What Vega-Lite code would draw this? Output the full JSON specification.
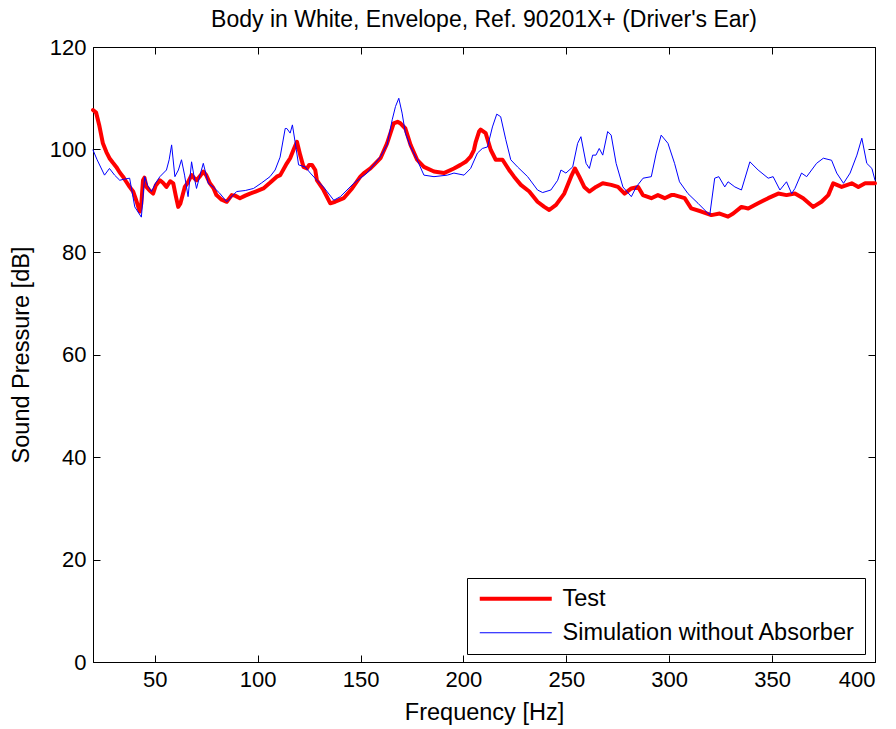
{
  "$schema": "https://vega.github.io/schema/vega-lite/v6.json",
  "width": 782,
  "height": 615,
  "autosize": {"type": "none"},
  "padding": {"left": 93, "top": 47, "right": 21, "bottom": 67},
  "background": "white",
  "title": {"text": "Body in White, Envelope, Ref. 90201X+ (Driver's Ear)", "fontSize": 23, "fontWeight": "normal", "font": "Liberation Sans", "color": "black", "offset": 4},
  "config": {
    "font": "Liberation Sans",
    "view": {"stroke": "black", "strokeWidth": 1},
    "axis": {"grid": false, "domainColor": "black", "tickColor": "black", "labelColor": "black", "titleColor": "black", "labelFontSize": 22, "titleFontSize": 23.5, "titleFontWeight": "normal", "tickSize": -7, "labelFont": "Liberation Sans", "titleFont": "Liberation Sans"}
  },
  "datasets": {
    "curves": [
      {"f": 20, "db": 107.7, "s": "Test"},
      {"f": 21.5, "db": 107.2, "s": "Test"},
      {"f": 23, "db": 104.8, "s": "Test"},
      {"f": 24.8, "db": 101.2, "s": "Test"},
      {"f": 26.5, "db": 99.5, "s": "Test"},
      {"f": 28, "db": 98.3, "s": "Test"},
      {"f": 29.5, "db": 97.5, "s": "Test"},
      {"f": 31.3, "db": 96.6, "s": "Test"},
      {"f": 33, "db": 95.5, "s": "Test"},
      {"f": 34.6, "db": 94.7, "s": "Test"},
      {"f": 36, "db": 93.8, "s": "Test"},
      {"f": 37.8, "db": 92.7, "s": "Test"},
      {"f": 39.5, "db": 91.8, "s": "Test"},
      {"f": 41, "db": 90.1, "s": "Test"},
      {"f": 42.7, "db": 87.9, "s": "Test"},
      {"f": 43.5, "db": 89.5, "s": "Test"},
      {"f": 44.3, "db": 94, "s": "Test"},
      {"f": 45, "db": 94.5, "s": "Test"},
      {"f": 46, "db": 92.7, "s": "Test"},
      {"f": 47.5, "db": 92, "s": "Test"},
      {"f": 49.2, "db": 91.4, "s": "Test"},
      {"f": 50.5, "db": 93, "s": "Test"},
      {"f": 52.5, "db": 94, "s": "Test"},
      {"f": 54, "db": 93.5, "s": "Test"},
      {"f": 55.7, "db": 92.7, "s": "Test"},
      {"f": 57.5, "db": 93.8, "s": "Test"},
      {"f": 59, "db": 93.4, "s": "Test"},
      {"f": 60.2, "db": 91, "s": "Test"},
      {"f": 61.4, "db": 88.8, "s": "Test"},
      {"f": 62.5, "db": 89.5, "s": "Test"},
      {"f": 64.6, "db": 92.7, "s": "Test"},
      {"f": 66, "db": 93.5, "s": "Test"},
      {"f": 67.9, "db": 95, "s": "Test"},
      {"f": 69, "db": 94.5, "s": "Test"},
      {"f": 70.3, "db": 94, "s": "Test"},
      {"f": 72, "db": 94.8, "s": "Test"},
      {"f": 73.6, "db": 95.7, "s": "Test"},
      {"f": 75, "db": 95, "s": "Test"},
      {"f": 76.8, "db": 93.4, "s": "Test"},
      {"f": 78.5, "db": 92.5, "s": "Test"},
      {"f": 80, "db": 91.1, "s": "Test"},
      {"f": 82.5, "db": 90.2, "s": "Test"},
      {"f": 85, "db": 89.8, "s": "Test"},
      {"f": 87.4, "db": 91.1, "s": "Test"},
      {"f": 89, "db": 91, "s": "Test"},
      {"f": 91.4, "db": 90.5, "s": "Test"},
      {"f": 94, "db": 91, "s": "Test"},
      {"f": 96.3, "db": 91.4, "s": "Test"},
      {"f": 99, "db": 91.8, "s": "Test"},
      {"f": 102.8, "db": 92.4, "s": "Test"},
      {"f": 106, "db": 93.5, "s": "Test"},
      {"f": 109.3, "db": 94.7, "s": "Test"},
      {"f": 111, "db": 95, "s": "Test"},
      {"f": 114.2, "db": 97.3, "s": "Test"},
      {"f": 115.8, "db": 98.3, "s": "Test"},
      {"f": 117.4, "db": 99.9, "s": "Test"},
      {"f": 119.1, "db": 101.5, "s": "Test"},
      {"f": 120.7, "db": 98.9, "s": "Test"},
      {"f": 122.3, "db": 96.6, "s": "Test"},
      {"f": 124, "db": 96.3, "s": "Test"},
      {"f": 125, "db": 97, "s": "Test"},
      {"f": 126.4, "db": 97, "s": "Test"},
      {"f": 128, "db": 96, "s": "Test"},
      {"f": 128.8, "db": 94, "s": "Test"},
      {"f": 132, "db": 92.1, "s": "Test"},
      {"f": 135.3, "db": 89.5, "s": "Test"},
      {"f": 137.7, "db": 89.8, "s": "Test"},
      {"f": 141.8, "db": 90.5, "s": "Test"},
      {"f": 145.9, "db": 92.4, "s": "Test"},
      {"f": 149.9, "db": 94.7, "s": "Test"},
      {"f": 152, "db": 95.5, "s": "Test"},
      {"f": 154.8, "db": 96.3, "s": "Test"},
      {"f": 157, "db": 97.2, "s": "Test"},
      {"f": 159.7, "db": 98.3, "s": "Test"},
      {"f": 162.9, "db": 101.2, "s": "Test"},
      {"f": 166.1, "db": 105.1, "s": "Test"},
      {"f": 168, "db": 105.4, "s": "Test"},
      {"f": 169.4, "db": 105.1, "s": "Test"},
      {"f": 171.8, "db": 104.1, "s": "Test"},
      {"f": 174.3, "db": 100.9, "s": "Test"},
      {"f": 177.5, "db": 98, "s": "Test"},
      {"f": 180.8, "db": 96.6, "s": "Test"},
      {"f": 185.7, "db": 95.7, "s": "Test"},
      {"f": 190.5, "db": 95.4, "s": "Test"},
      {"f": 195.4, "db": 96.3, "s": "Test"},
      {"f": 198.6, "db": 97, "s": "Test"},
      {"f": 201.1, "db": 97.6, "s": "Test"},
      {"f": 203.5, "db": 98.6, "s": "Test"},
      {"f": 205.1, "db": 99.9, "s": "Test"},
      {"f": 206, "db": 101.5, "s": "Test"},
      {"f": 207.6, "db": 103.5, "s": "Test"},
      {"f": 208.4, "db": 103.9, "s": "Test"},
      {"f": 210.8, "db": 103.2, "s": "Test"},
      {"f": 213.3, "db": 99.9, "s": "Test"},
      {"f": 215.7, "db": 98, "s": "Test"},
      {"f": 219, "db": 98, "s": "Test"},
      {"f": 222.2, "db": 96, "s": "Test"},
      {"f": 224.6, "db": 94.7, "s": "Test"},
      {"f": 227.9, "db": 93.1, "s": "Test"},
      {"f": 232, "db": 91.8, "s": "Test"},
      {"f": 236, "db": 89.8, "s": "Test"},
      {"f": 239.3, "db": 88.8, "s": "Test"},
      {"f": 241.7, "db": 88.2, "s": "Test"},
      {"f": 245, "db": 89.2, "s": "Test"},
      {"f": 249, "db": 91.4, "s": "Test"},
      {"f": 252.3, "db": 94.7, "s": "Test"},
      {"f": 254.2, "db": 96.3, "s": "Test"},
      {"f": 256.3, "db": 94.7, "s": "Test"},
      {"f": 258.7, "db": 92.7, "s": "Test"},
      {"f": 261.2, "db": 91.8, "s": "Test"},
      {"f": 264.4, "db": 92.7, "s": "Test"},
      {"f": 267.7, "db": 93.4, "s": "Test"},
      {"f": 271.8, "db": 93.1, "s": "Test"},
      {"f": 275.1, "db": 92.7, "s": "Test"},
      {"f": 278.3, "db": 91.4, "s": "Test"},
      {"f": 281.6, "db": 92.4, "s": "Test"},
      {"f": 284.9, "db": 92.7, "s": "Test"},
      {"f": 287.2, "db": 91.1, "s": "Test"},
      {"f": 291.3, "db": 90.5, "s": "Test"},
      {"f": 294.5, "db": 91.1, "s": "Test"},
      {"f": 297.8, "db": 90.5, "s": "Test"},
      {"f": 301, "db": 91.1, "s": "Test"},
      {"f": 302.6, "db": 91.1, "s": "Test"},
      {"f": 307.5, "db": 90.5, "s": "Test"},
      {"f": 310.7, "db": 88.5, "s": "Test"},
      {"f": 315.6, "db": 87.9, "s": "Test"},
      {"f": 320.5, "db": 87.2, "s": "Test"},
      {"f": 324.5, "db": 87.5, "s": "Test"},
      {"f": 328.6, "db": 86.9, "s": "Test"},
      {"f": 331.1, "db": 87.5, "s": "Test"},
      {"f": 335.1, "db": 88.8, "s": "Test"},
      {"f": 338.4, "db": 88.5, "s": "Test"},
      {"f": 343.2, "db": 89.5, "s": "Test"},
      {"f": 348.1, "db": 90.5, "s": "Test"},
      {"f": 353, "db": 91.4, "s": "Test"},
      {"f": 357, "db": 91.1, "s": "Test"},
      {"f": 361.1, "db": 91.4, "s": "Test"},
      {"f": 365.1, "db": 90.5, "s": "Test"},
      {"f": 370, "db": 88.8, "s": "Test"},
      {"f": 374, "db": 89.8, "s": "Test"},
      {"f": 377.3, "db": 91.1, "s": "Test"},
      {"f": 379.7, "db": 93.4, "s": "Test"},
      {"f": 383.8, "db": 92.7, "s": "Test"},
      {"f": 388.7, "db": 93.4, "s": "Test"},
      {"f": 391.9, "db": 92.7, "s": "Test"},
      {"f": 395.2, "db": 93.4, "s": "Test"},
      {"f": 400, "db": 93.4, "s": "Test"},
      {"f": 20, "db": 99.9, "s": "Simulation without Absorber"},
      {"f": 22, "db": 98, "s": "Simulation without Absorber"},
      {"f": 25.6, "db": 95, "s": "Simulation without Absorber"},
      {"f": 28, "db": 96.3, "s": "Simulation without Absorber"},
      {"f": 30.5, "db": 95, "s": "Simulation without Absorber"},
      {"f": 33, "db": 94, "s": "Simulation without Absorber"},
      {"f": 35, "db": 94.2, "s": "Simulation without Absorber"},
      {"f": 37.8, "db": 94.4, "s": "Simulation without Absorber"},
      {"f": 40.3, "db": 88.8, "s": "Simulation without Absorber"},
      {"f": 43.5, "db": 86.8, "s": "Simulation without Absorber"},
      {"f": 45.1, "db": 94.7, "s": "Simulation without Absorber"},
      {"f": 46.5, "db": 93, "s": "Simulation without Absorber"},
      {"f": 48.4, "db": 91.8, "s": "Simulation without Absorber"},
      {"f": 50.5, "db": 93.5, "s": "Simulation without Absorber"},
      {"f": 52.5, "db": 94.7, "s": "Simulation without Absorber"},
      {"f": 55.7, "db": 96, "s": "Simulation without Absorber"},
      {"f": 57, "db": 98, "s": "Simulation without Absorber"},
      {"f": 58.2, "db": 100.9, "s": "Simulation without Absorber"},
      {"f": 59.8, "db": 94.7, "s": "Simulation without Absorber"},
      {"f": 61.5, "db": 96, "s": "Simulation without Absorber"},
      {"f": 63, "db": 98, "s": "Simulation without Absorber"},
      {"f": 64.5, "db": 95, "s": "Simulation without Absorber"},
      {"f": 66.2, "db": 90.8, "s": "Simulation without Absorber"},
      {"f": 67.9, "db": 97.6, "s": "Simulation without Absorber"},
      {"f": 69, "db": 95, "s": "Simulation without Absorber"},
      {"f": 70.3, "db": 92.4, "s": "Simulation without Absorber"},
      {"f": 72, "db": 95, "s": "Simulation without Absorber"},
      {"f": 73.6, "db": 97.3, "s": "Simulation without Absorber"},
      {"f": 76, "db": 93.4, "s": "Simulation without Absorber"},
      {"f": 78.4, "db": 92.7, "s": "Simulation without Absorber"},
      {"f": 81.5, "db": 91.5, "s": "Simulation without Absorber"},
      {"f": 85, "db": 89.8, "s": "Simulation without Absorber"},
      {"f": 89.8, "db": 91.8, "s": "Simulation without Absorber"},
      {"f": 94, "db": 92, "s": "Simulation without Absorber"},
      {"f": 98, "db": 92.4, "s": "Simulation without Absorber"},
      {"f": 102, "db": 93.5, "s": "Simulation without Absorber"},
      {"f": 106, "db": 94.7, "s": "Simulation without Absorber"},
      {"f": 108.5, "db": 96, "s": "Simulation without Absorber"},
      {"f": 110.9, "db": 98.5, "s": "Simulation without Absorber"},
      {"f": 113.4, "db": 104.1, "s": "Simulation without Absorber"},
      {"f": 114.2, "db": 104.1, "s": "Simulation without Absorber"},
      {"f": 115.8, "db": 103.2, "s": "Simulation without Absorber"},
      {"f": 116.9, "db": 104.8, "s": "Simulation without Absorber"},
      {"f": 118.2, "db": 101.5, "s": "Simulation without Absorber"},
      {"f": 119.9, "db": 97, "s": "Simulation without Absorber"},
      {"f": 123.1, "db": 96.6, "s": "Simulation without Absorber"},
      {"f": 125.6, "db": 95.4, "s": "Simulation without Absorber"},
      {"f": 128.8, "db": 94, "s": "Simulation without Absorber"},
      {"f": 132, "db": 92.7, "s": "Simulation without Absorber"},
      {"f": 137, "db": 90.1, "s": "Simulation without Absorber"},
      {"f": 140.2, "db": 90.8, "s": "Simulation without Absorber"},
      {"f": 146.7, "db": 93.4, "s": "Simulation without Absorber"},
      {"f": 153.2, "db": 95.4, "s": "Simulation without Absorber"},
      {"f": 159.7, "db": 98.6, "s": "Simulation without Absorber"},
      {"f": 162.9, "db": 100.9, "s": "Simulation without Absorber"},
      {"f": 165.4, "db": 105.8, "s": "Simulation without Absorber"},
      {"f": 167, "db": 108.4, "s": "Simulation without Absorber"},
      {"f": 168.6, "db": 110, "s": "Simulation without Absorber"},
      {"f": 170.2, "db": 107.1, "s": "Simulation without Absorber"},
      {"f": 171.8, "db": 103.2, "s": "Simulation without Absorber"},
      {"f": 174.3, "db": 100.5, "s": "Simulation without Absorber"},
      {"f": 177.5, "db": 98, "s": "Simulation without Absorber"},
      {"f": 180.8, "db": 95, "s": "Simulation without Absorber"},
      {"f": 185.7, "db": 94.7, "s": "Simulation without Absorber"},
      {"f": 192.2, "db": 95, "s": "Simulation without Absorber"},
      {"f": 195.4, "db": 95.4, "s": "Simulation without Absorber"},
      {"f": 200.3, "db": 95, "s": "Simulation without Absorber"},
      {"f": 203.5, "db": 96.3, "s": "Simulation without Absorber"},
      {"f": 206.8, "db": 99.3, "s": "Simulation without Absorber"},
      {"f": 209.2, "db": 100.2, "s": "Simulation without Absorber"},
      {"f": 211.7, "db": 100.5, "s": "Simulation without Absorber"},
      {"f": 214.1, "db": 104.4, "s": "Simulation without Absorber"},
      {"f": 216.2, "db": 106.9, "s": "Simulation without Absorber"},
      {"f": 218.1, "db": 106.4, "s": "Simulation without Absorber"},
      {"f": 220.6, "db": 101.9, "s": "Simulation without Absorber"},
      {"f": 223, "db": 98, "s": "Simulation without Absorber"},
      {"f": 226.3, "db": 96.6, "s": "Simulation without Absorber"},
      {"f": 231.2, "db": 94.7, "s": "Simulation without Absorber"},
      {"f": 236, "db": 92.1, "s": "Simulation without Absorber"},
      {"f": 238.5, "db": 91.6, "s": "Simulation without Absorber"},
      {"f": 242.5, "db": 92.1, "s": "Simulation without Absorber"},
      {"f": 245.8, "db": 94, "s": "Simulation without Absorber"},
      {"f": 247.4, "db": 96, "s": "Simulation without Absorber"},
      {"f": 249.8, "db": 95.4, "s": "Simulation without Absorber"},
      {"f": 253.1, "db": 96.6, "s": "Simulation without Absorber"},
      {"f": 255.5, "db": 101.2, "s": "Simulation without Absorber"},
      {"f": 257.1, "db": 102.5, "s": "Simulation without Absorber"},
      {"f": 259.6, "db": 97.3, "s": "Simulation without Absorber"},
      {"f": 261.2, "db": 96.3, "s": "Simulation without Absorber"},
      {"f": 262.8, "db": 98.9, "s": "Simulation without Absorber"},
      {"f": 264.4, "db": 98.9, "s": "Simulation without Absorber"},
      {"f": 266, "db": 100.2, "s": "Simulation without Absorber"},
      {"f": 267.7, "db": 98.9, "s": "Simulation without Absorber"},
      {"f": 270.1, "db": 103.5, "s": "Simulation without Absorber"},
      {"f": 271.8, "db": 102.8, "s": "Simulation without Absorber"},
      {"f": 274.2, "db": 97.3, "s": "Simulation without Absorber"},
      {"f": 277.5, "db": 92.7, "s": "Simulation without Absorber"},
      {"f": 281.6, "db": 90.8, "s": "Simulation without Absorber"},
      {"f": 284, "db": 92.7, "s": "Simulation without Absorber"},
      {"f": 287.3, "db": 94.4, "s": "Simulation without Absorber"},
      {"f": 291.3, "db": 94.7, "s": "Simulation without Absorber"},
      {"f": 293.7, "db": 99.3, "s": "Simulation without Absorber"},
      {"f": 296.1, "db": 102.8, "s": "Simulation without Absorber"},
      {"f": 299.4, "db": 101.2, "s": "Simulation without Absorber"},
      {"f": 302.6, "db": 97.3, "s": "Simulation without Absorber"},
      {"f": 305, "db": 93.7, "s": "Simulation without Absorber"},
      {"f": 309.1, "db": 91.4, "s": "Simulation without Absorber"},
      {"f": 314, "db": 89.5, "s": "Simulation without Absorber"},
      {"f": 319.7, "db": 87.2, "s": "Simulation without Absorber"},
      {"f": 322.1, "db": 94.4, "s": "Simulation without Absorber"},
      {"f": 324.1, "db": 94.7, "s": "Simulation without Absorber"},
      {"f": 327, "db": 92.7, "s": "Simulation without Absorber"},
      {"f": 328.6, "db": 93.7, "s": "Simulation without Absorber"},
      {"f": 331.9, "db": 92.7, "s": "Simulation without Absorber"},
      {"f": 335.1, "db": 92.1, "s": "Simulation without Absorber"},
      {"f": 339.2, "db": 97.6, "s": "Simulation without Absorber"},
      {"f": 343.2, "db": 96, "s": "Simulation without Absorber"},
      {"f": 348.1, "db": 94.4, "s": "Simulation without Absorber"},
      {"f": 350.5, "db": 94.7, "s": "Simulation without Absorber"},
      {"f": 353.8, "db": 92.1, "s": "Simulation without Absorber"},
      {"f": 357, "db": 93.7, "s": "Simulation without Absorber"},
      {"f": 359.5, "db": 91.4, "s": "Simulation without Absorber"},
      {"f": 361.1, "db": 92.4, "s": "Simulation without Absorber"},
      {"f": 364.3, "db": 95.4, "s": "Simulation without Absorber"},
      {"f": 366.8, "db": 94.7, "s": "Simulation without Absorber"},
      {"f": 371.6, "db": 97.3, "s": "Simulation without Absorber"},
      {"f": 374.9, "db": 98.3, "s": "Simulation without Absorber"},
      {"f": 378.9, "db": 97.9, "s": "Simulation without Absorber"},
      {"f": 381.4, "db": 95.4, "s": "Simulation without Absorber"},
      {"f": 384.7, "db": 93.4, "s": "Simulation without Absorber"},
      {"f": 387.9, "db": 95.4, "s": "Simulation without Absorber"},
      {"f": 391.2, "db": 98.9, "s": "Simulation without Absorber"},
      {"f": 393.6, "db": 102.2, "s": "Simulation without Absorber"},
      {"f": 396, "db": 97.3, "s": "Simulation without Absorber"},
      {"f": 398.5, "db": 96.3, "s": "Simulation without Absorber"},
      {"f": 400, "db": 94, "s": "Simulation without Absorber"}
    ]
  },
  "data": {"name": "curves"},
  "layer": [
    {
      "mark": {"type": "line", "strokeJoin": "round", "strokeCap": "round"},
      "encoding": {
        "x": {"field": "f", "type": "quantitative", "scale": {"domain": [20, 400], "nice": false, "zero": false},
              "axis": {"values": [50, 100, 150, 200, 250, 300, 350, 400], "title": "Frequency [Hz]", "labelPadding": 14, "titlePadding": 10}},
        "y": {"field": "db", "type": "quantitative", "scale": {"domain": [0, 120], "nice": false, "zero": false},
              "axis": {"values": [0, 20, 40, 60, 80, 100, 120], "title": "Sound Pressure [dB]", "labelPadding": 14, "titlePadding": 16}},
        "color": {"field": "s", "type": "nominal",
                  "scale": {"domain": ["Test", "Simulation without Absorber"], "range": ["#ff0000", "#0000ff"]},
                  "legend": {"title": null, "orient": "none", "legendX": 374, "legendY": 531, "symbolType": "M-4,0H4", "symbolSize": 324, "symbolOffset": 28, "labelOffset": 35, "labelFontSize": 23.5, "labelColor": "black", "labelLimit": 0, "strokeColor": "black", "fillColor": "white", "padding": 9, "rowPadding": 9}},
        "strokeWidth": {"field": "s", "type": "nominal",
                  "scale": {"domain": ["Test", "Simulation without Absorber"], "range": [4, 1]},
                  "legend": {"title": null, "orient": "none", "legendX": 374, "legendY": 531, "symbolType": "M-4,0H4", "symbolSize": 324, "symbolOffset": 28, "labelOffset": 35, "labelFontSize": 23.5, "labelColor": "black", "labelLimit": 0, "strokeColor": "black", "fillColor": "white", "padding": 9, "rowPadding": 9}}
      }
    },
    {
      "mark": {"type": "line", "opacity": 0},
      "encoding": {
        "x": {"field": "f", "type": "quantitative", "axis": {"orient": "top", "values": [50, 100, 150, 200, 250, 300, 350, 400], "labels": false, "title": null, "domain": false}},
        "y": {"field": "db", "type": "quantitative", "axis": {"orient": "right", "values": [0, 20, 40, 60, 80, 100, 120], "labels": false, "title": null, "domain": false}},
        "detail": {"field": "s", "type": "nominal"}
      }
    }
  ],
  "resolve": {"axis": {"x": "independent", "y": "independent"}}
}
